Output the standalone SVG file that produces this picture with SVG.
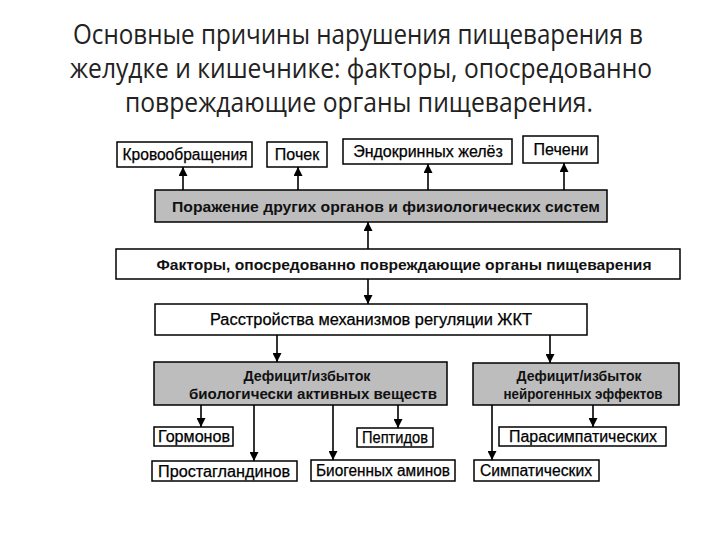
<svg xmlns="http://www.w3.org/2000/svg" width="720" height="540" viewBox="0 0 720 540">
<style>
.title{font-family:"Open Sans","Noto Sans",sans-serif;font-size:27px;fill:#222;text-anchor:middle}
.box{fill:#fff;stroke:#000;stroke-width:1.5}
.gbox{fill:#bdbdbd;stroke:#000;stroke-width:1.5}
.t{font-family:"Liberation Sans",Arial,sans-serif;font-size:16px;fill:#000;text-anchor:middle;stroke:#000;stroke-width:0.25}
.tb{font-family:"Liberation Sans",Arial,sans-serif;font-size:15px;font-weight:bold;fill:#111;text-anchor:middle}
.c{stroke:#000;stroke-width:1.6;fill:none}
</style>
<defs>
<marker id="ah" viewBox="0 0 10 10" refX="10" refY="5" markerWidth="10" markerHeight="9" markerUnits="userSpaceOnUse" orient="auto">
<path d="M0,0 L10,5 L0,10 z" fill="#000"/>
</marker>
</defs>
<rect width="720" height="540" fill="#fff"/>
<g id="title">
<text class="title" x="358" y="44" textLength="570" lengthAdjust="spacingAndGlyphs">Основные причины нарушения пищеварения в</text>
<text class="title" x="361" y="78" textLength="582" lengthAdjust="spacingAndGlyphs">желудке и кишечнике: факторы, опосредованно</text>
<text class="title" x="359" y="112" textLength="468" lengthAdjust="spacingAndGlyphs">повреждающие органы пищеварения.</text>
</g>
<g id="connectors">
<line class="c" x1="183" y1="190" x2="183" y2="167" marker-end="url(#ah)"/>
<line class="c" x1="298" y1="190" x2="298" y2="167" marker-end="url(#ah)"/>
<line class="c" x1="428" y1="190" x2="428" y2="164" marker-end="url(#ah)"/>
<line class="c" x1="564" y1="190" x2="564" y2="163" marker-end="url(#ah)"/>
<line class="c" x1="368" y1="249" x2="368" y2="222" marker-end="url(#ah)"/>
<line class="c" x1="368" y1="279" x2="368" y2="304" marker-end="url(#ah)"/>
<line class="c" x1="277" y1="335" x2="277" y2="362" marker-end="url(#ah)"/>
<line class="c" x1="550" y1="335" x2="550" y2="363" marker-end="url(#ah)"/>
<line class="c" x1="201" y1="405" x2="201" y2="427" marker-end="url(#ah)"/>
<line class="c" x1="254" y1="405" x2="254" y2="461" marker-end="url(#ah)"/>
<line class="c" x1="333" y1="405" x2="333" y2="460" marker-end="url(#ah)"/>
<line class="c" x1="398" y1="405" x2="398" y2="428" marker-end="url(#ah)"/>
<line class="c" x1="492" y1="405" x2="492" y2="460" marker-end="url(#ah)"/>
<line class="c" x1="593" y1="405" x2="593" y2="427" marker-end="url(#ah)"/>
</g>
<g id="n-krov"><rect class="box" x="117" y="142" width="135" height="25"/><text class="t" x="185" y="160" textLength="125" lengthAdjust="spacingAndGlyphs">Кровообращения</text></g>
<g id="n-pochek"><rect class="box" x="267" y="142" width="60" height="25"/><text class="t" x="297" y="160">Почек</text></g>
<g id="n-endo"><rect class="box" x="343" y="139" width="169" height="25"/><text class="t" x="428" y="157">Эндокринных желёз</text></g>
<g id="n-pecheni"><rect class="box" x="523" y="136" width="75" height="27"/><text class="t" x="561" y="155">Печени</text></g>
<g id="n-porazh"><rect class="gbox" x="155" y="190" width="452" height="32"/><text class="tb" x="386" y="212" font-size="16" textLength="428" lengthAdjust="spacingAndGlyphs">Поражение других органов и физиологических систем</text></g>
<g id="n-factory"><rect class="box" x="116" y="249" width="564" height="30"/><text class="tb" x="404" y="270" textLength="495" lengthAdjust="spacingAndGlyphs">Факторы, опосредованно повреждающие органы пищеварения</text></g>
<g id="n-rasstr"><rect class="box" x="155" y="304" width="432" height="31"/><text class="t" x="371" y="325" textLength="322" lengthAdjust="spacingAndGlyphs">Расстройства механизмов регуляции ЖКТ</text></g>
<g id="n-bav"><rect class="gbox" x="154" y="362" width="293" height="43"/><text class="tb" x="307" y="381" textLength="127" lengthAdjust="spacingAndGlyphs">Дефицит/избыток</text><text class="tb" x="313" y="399" textLength="248" lengthAdjust="spacingAndGlyphs">биологически активных веществ</text></g>
<g id="n-neuro"><rect class="gbox" x="473" y="363" width="206" height="42"/><text class="tb" x="579" y="381" textLength="125" lengthAdjust="spacingAndGlyphs">Дефицит/избыток</text><text class="tb" x="583" y="399" textLength="159" lengthAdjust="spacingAndGlyphs">нейрогенных эффектов</text></g>
<g id="n-gorm"><rect class="box" x="154" y="427" width="79" height="19"/><text class="t" x="194" y="442" textLength="72" lengthAdjust="spacingAndGlyphs">Гормонов</text></g>
<g id="n-prost"><rect class="box" x="152" y="461" width="145" height="20"/><text class="t" x="224" y="477" textLength="132" lengthAdjust="spacingAndGlyphs">Простагландинов</text></g>
<g id="n-biog"><rect class="box" x="311" y="460" width="144" height="21"/><text class="t" x="383" y="476" textLength="134" lengthAdjust="spacingAndGlyphs">Биогенных аминов</text></g>
<g id="n-pept"><rect class="box" x="357" y="428" width="76" height="19"/><text class="t" x="395" y="443" textLength="66" lengthAdjust="spacingAndGlyphs">Пептидов</text></g>
<g id="n-para"><rect class="box" x="499" y="427" width="167" height="19"/><text class="t" x="583" y="442" textLength="148" lengthAdjust="spacingAndGlyphs">Парасимпатических</text></g>
<g id="n-simp"><rect class="box" x="474" y="460" width="125" height="21"/><text class="t" x="536" y="476" textLength="112" lengthAdjust="spacingAndGlyphs">Симпатических</text></g>
</svg>
